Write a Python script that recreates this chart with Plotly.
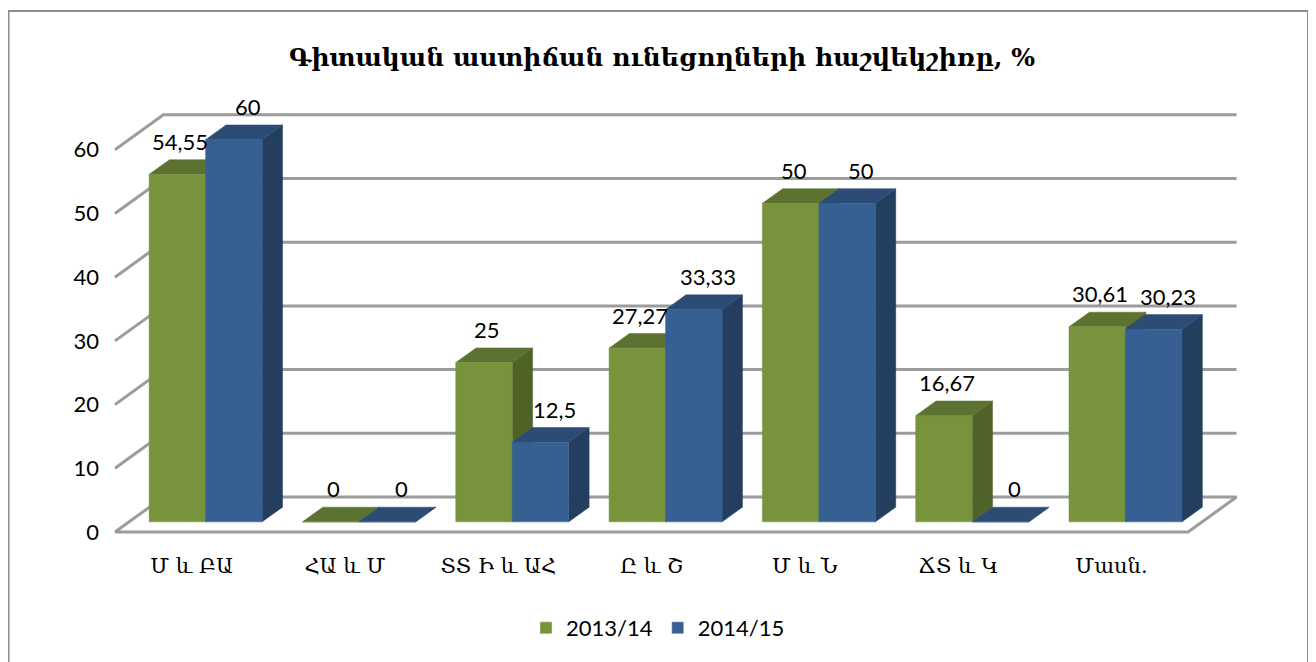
import plotly.graph_objects as go

title = "Գիտական աստիճան ունեցողների հաշվեկշիռը, %"
categories = ["Մ և ԲԱ", "ՀԱ և Մ", "ՏՏ Ի և ԱՀ", "Ը և Շ", "Մ և Ն", "ՃՏ և Կ", "Մասն."]
series_names = ["2013/14", "2014/15"]
values_2013 = [54.55, 0, 25, 27.27, 50, 16.67, 30.61]
values_2014 = [60, 0, 12.5, 33.33, 50, 0, 30.23]
y_ticks = [0, 10, 20, 30, 40, 50, 60]

# ---- styling / geometry (projection parameters) ----
# page body has an 8px margin, so the figure is 8px smaller and offset
W_PX, H_PX = 1308, 654
ML, MR, MT, MB = 92, 56, 87, 117
PW, PH = W_PX - ML - MR, H_PX - MT - MB
XR = [-0.5975, 6.969]
YR = [-2.04, 68.6]
DX, DY = 0.316, 5.49          # full depth offset in data units
F0, F1 = 0.29, 0.71           # bar depth (front / back fraction)
BW = 0.3686                   # bar width (category units)

colors = {
    "2013/14": dict(front="#77933C", top="#5B7231", side="#4F6228"),
    "2014/15": dict(front="#376092", top="#2C4C76", side="#233E5F"),
}
label_xshift = {"2013/14": 3, "2014/15": 14}
grid_col = "#9C9C9C"
sans = "Lato"
serif = "DejaVu Serif"

fig = go.Figure()

# back wall gridlines + left wall diagonals + floor
n = len(categories)
xl, xr = -0.5, n - 0.5
for v in y_ticks:
    xs = [xl, xl + DX, xr + DX]
    ys = [v, v + DY, v + DY]
    if v == 0:
        xs += [xr, xl]
        ys += [0, 0]
    fig.add_trace(go.Scatter(x=xs, y=ys, mode="lines", line=dict(color=grid_col, width=3),
                             hoverinfo="skip", showlegend=False))

def faces(vals, left_off):
    fx, fy = F0 * DX, F0 * DY
    bx, by = F1 * DX, F1 * DY
    front_x, front_y, top_x, top_y, side_x, side_y = [], [], [], [], [], []
    for i, v in enumerate(vals):
        x0 = i + left_off
        x1 = x0 + BW
        front_x += [x0 + fx, x1 + fx, x1 + fx, x0 + fx, x0 + fx, None]
        front_y += [fy, fy, v + fy, v + fy, fy, None]
        top_x += [x0 + fx, x1 + fx, x1 + bx, x0 + bx, x0 + fx, None]
        top_y += [v + fy, v + fy, v + by, v + by, v + fy, None]
        side_x += [x1 + fx, x1 + bx, x1 + bx, x1 + fx, x1 + fx, None]
        side_y += [fy, by, v + by, v + fy, fy, None]
    return (front_x, front_y), (top_x, top_y), (side_x, side_y)

for name, vals, off in [("2013/14", values_2013, -BW), ("2014/15", values_2014, 0.0)]:
    (fxs, fys), (txs, tys), (sxs, sys_) = faces(vals, off)
    c = colors[name]
    for xs, ys, col in [(sxs, sys_, c["side"]), (txs, tys, c["top"]), (fxs, fys, c["front"])]:
        fig.add_trace(go.Scatter(x=xs, y=ys, mode="lines", fill="toself", fillcolor=col,
                                 line=dict(color=col, width=0.5), hoverinfo="skip",
                                 showlegend=False))
    # data labels
    for i, v in enumerate(vals):
        txt = f"{v:g}".replace(".", ",")
        fig.add_annotation(x=i + off + BW / 2 + F0 * DX, y=v + F0 * DY, text=txt,
                           showarrow=False, yshift=33, xshift=label_xshift[name],
                           font=dict(family=sans, size=22, color="black"))

# legend entries
for name in series_names:
    fig.add_trace(go.Bar(x=[-10], y=[0], name=name, marker_color=colors[name]["front"]))

# outer chart border (bottom edge lies below the visible page)
fig.add_shape(type="rect", xref="paper", yref="paper",
              x0=(0.5 - ML) / PW, x1=(1300 - ML) / PW,
              y0=(H_PX - MB - 662) / PH, y1=(H_PX - MB - 3) / PH,
              line=dict(color="#8C8C8C", width=2), layer="below")

fig.update_layout(
    width=W_PX, height=H_PX,
    margin=dict(l=ML, r=MR, t=MT, b=MB),
    paper_bgcolor="white", plot_bgcolor="white",
    title=dict(text="<b>" + title + "</b>", x=0.5, xref="container", xanchor="center",
               y=1 - 49 / H_PX, yanchor="middle",
               font=dict(family=serif, size=25, color="black")),
    xaxis=dict(range=XR, tickvals=list(range(n)), ticktext=categories, showgrid=False,
               zeroline=False, showline=False, ticks="", ticklabelstandoff=6,
               tickfont=dict(family=serif, size=21, color="black"), fixedrange=True),
    yaxis=dict(range=YR, tickvals=y_ticks, showgrid=False, zeroline=False, showline=False,
               ticks="", tickfont=dict(family=sans, size=22, color="black"), fixedrange=True),
    legend=dict(orientation="h", x=(650 - ML) / PW, xanchor="center",
                y=(H_PX - MB - 620) / PH, yanchor="middle",
                font=dict(family=sans, size=22, color="black")),
    showlegend=True,
    barmode="overlay",
)

fig.write_html("out.html")
